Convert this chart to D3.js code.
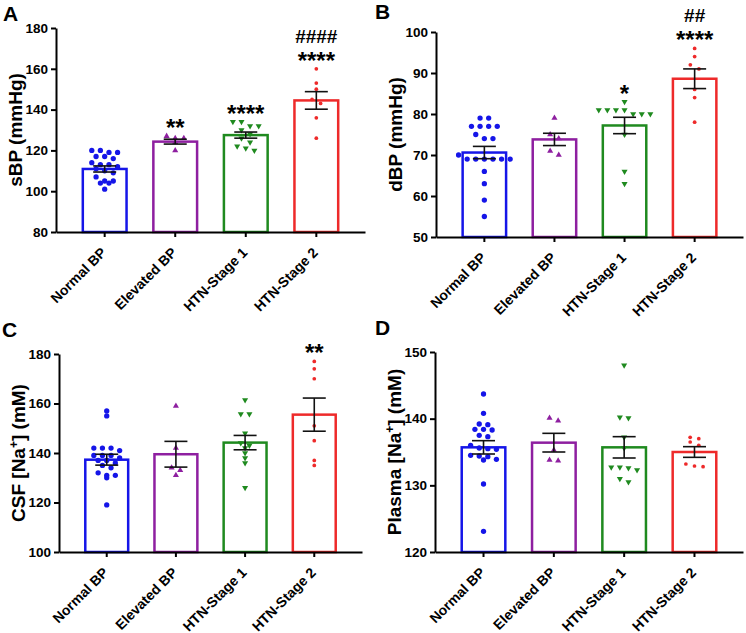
<!DOCTYPE html>
<html>
<head>
<meta charset="utf-8">
<script src="https://cdn.jsdelivr.net/npm/d3@7"></script>
<style>
  body { margin: 0; background: #fff; }
  text { font-family: Arial, "Liberation Sans", sans-serif; font-weight: bold; }
</style>
</head>
<body>
<svg width="746" height="633"></svg>
<script>
const groups = ["Normal BP", "Elevated BP", "HTN-Stage 1", "HTN-Stage 2"];
const groupColors = ["#1515e8", "#8e1fa0", "#1f8a1f", "#ee2a2a"];

// A - systolic BP
const sbpPoints = [
  [120, 120, 119, 119, 117, 117, 116, 114, 113, 113, 112, 111, 110, 109, 107, 105, 105, 104, 104, 101],
  [127, 126, 126, 124, 120],
  [134, 134, 132, 132, 130, 128, 126, 124, 122, 121, 120],
  [160, 153, 150, 145, 143, 136, 126]
];
const sbpMean = [110.9, 124.3, 127.5, 144.5];
const sbpSem = [1.5, 1.2, 1.5, 4.3];
const sbpStars = ["", "**", "****", "****"];
const sbpHash = ["", "", "", "####"];
const sbpTicks = [80, 100, 120, 140, 160, 180];

// B - diastolic BP
const dbpPoints = [
  [79, 79, 77, 77, 77, 77, 75, 74, 74, 70, 69, 69, 69, 69, 69, 69, 66, 63, 59, 55],
  [79, 75, 74, 71, 70],
  [83, 81, 81, 81, 81, 80, 80, 80, 75, 66, 63],
  [96, 94, 92, 91, 86, 84, 78]
];
const dbpMean = [70.6, 73.8, 77.2, 88.6];
const dbpSem = [1.5, 1.5, 2.0, 2.4];
const dbpStars = ["", "", "*", "****"];
const dbpHash = ["", "", "", "##"];
const dbpTicks = [50, 60, 70, 80, 90, 100];

// C - CSF sodium
const csfPoints = [
  [157, 155, 142, 142, 142, 141, 139, 139, 139, 138, 137, 137, 136, 135, 134, 132, 131, 131, 130, 119],
  [159, 142, 134, 133, 131],
  [161.4, 155.8, 155.8, 148, 144, 143, 142, 140, 138, 136, 126],
  [177, 174, 170, 151, 145, 137, 135]
];
const csfMean = [137.3, 139.5, 144.2, 155.5];
const csfSem = [2.2, 5.2, 2.9, 6.7];
const csfStars = ["", "", "", "**"];
const csfHash = ["", "", "", ""];
const csfTicks = [100, 120, 140, 160, 180];

// D - plasma sodium
const plasmaPoints = [
  [143.7, 140.8, 139.2, 139.1, 138.4, 138.4, 138.3, 137.5, 137.3, 136.0, 135.6, 135.5, 135.4, 134.5, 134.4, 134.3, 133.9, 133.8, 130.2, 123.1],
  [140.1, 139.7, 135.3, 133.8, 133.7],
  [148.0, 140.2, 140.1, 137.2, 135.6, 132.7, 132.7, 132.6, 132.3, 131.0, 130.5],
  [137.2, 137.0, 136.5, 136.0, 133.2, 132.9, 132.8]
];
const plasmaMean = [135.7, 136.4, 135.7, 135.0];
const plasmaSem = [1.0, 1.4, 1.6, 0.8];
const plasmaStars = ["", "", "", ""];
const plasmaHash = ["", "", "", ""];
const plasmaTicks = [120, 130, 140, 150];

const panels = [
  {letter: "A", title: ["sBP (mmHg)"], points: sbpPoints, mean: sbpMean, sem: sbpSem, stars: sbpStars, hash: sbpHash, ticks: sbpTicks,
   left: 56, right: 365, top: 28, bottom: 232, lx: 3, ly: 21},
  {letter: "B", title: ["dBP (mmHg)"], points: dbpPoints, mean: dbpMean, sem: dbpSem, stars: dbpStars, hash: dbpHash, ticks: dbpTicks,
   left: 436, right: 743, top: 32, bottom: 237, lx: 375, ly: 19},
  {letter: "C", title: ["CSF [Na", "+", "] (mM)"], points: csfPoints, mean: csfMean, sem: csfSem, stars: csfStars, hash: csfHash, ticks: csfTicks,
   left: 59, right: 362, top: 354, bottom: 552, lx: 2, ly: 337},
  {letter: "D", title: ["Plasma [Na", "+", "] (mM)"], points: plasmaPoints, mean: plasmaMean, sem: plasmaSem, stars: plasmaStars, hash: plasmaHash, ticks: plasmaTicks,
   left: 435, right: 743, top: 352, bottom: 552, lx: 375, ly: 335}
];

const svg = d3.select("svg");

// spread points with about the same value sideways, like a column scatter
function spread(values, y) {
  const sorted = values.slice().sort((a, b) => b - a);
  const out = [];
  let row = [];
  const flush = () => {
    row.forEach((v, k) => out.push({v: v, dx: (k - (row.length - 1) / 2) * 8.6}));
    row = [];
  };
  sorted.forEach(v => {
    if (row.length && Math.abs(y(v) - y(row[0])) > 4.5) flush();
    row.push(v);
  });
  flush();
  return out;
}

function drawPanel(p) {
  const g = svg.append("g");

  const x = d3.scaleBand()
    .domain(groups)
    .range([p.left, p.right])
    .paddingInner(0.38)
    .paddingOuter(0.38);

  const y = d3.scaleLinear()
    .domain([p.ticks[0], p.ticks[p.ticks.length - 1]])
    .range([p.bottom, p.top]);

  // bars
  g.selectAll("rect.bar")
    .data(groups)
    .enter()
    .append("rect")
    .attr("class", "bar")
    .attr("x", d => x(d))
    .attr("width", x.bandwidth())
    .attr("y", (d, i) => y(p.mean[i]))
    .attr("height", (d, i) => p.bottom - y(p.mean[i]))
    .attr("fill", "none")
    .attr("stroke", (d, i) => groupColors[i])
    .attr("stroke-width", 2.5);

  // points
  groups.forEach((grp, i) => {
    const cx = x(grp) + x.bandwidth() / 2;
    const pts = spread(p.points[i], y);
    const sel = g.append("g").selectAll("path")
      .data(pts)
      .enter()
      .append("path")
      .attr("fill", groupColors[i]);
    if (i === 0) {
      sel.attr("d", d3.symbol(d3.symbolCircle, 22));
    } else if (i === 3) {
      sel.attr("d", d3.symbol(d3.symbolCircle, 11));
    } else {
      sel.attr("d", d3.symbol(d3.symbolTriangle, 16));
    }
    sel.attr("transform", d => "translate(" + (cx + d.dx) + "," + y(d.v) + ")" + (i === 2 ? " rotate(180)" : ""));
  });

  // error bars
  groups.forEach((grp, i) => {
    const cx = x(grp) + x.bandwidth() / 2;
    const hi = y(p.mean[i] + p.sem[i]), lo = y(p.mean[i] - p.sem[i]);
    const eb = g.append("g").attr("stroke", "#111").attr("stroke-width", 1.6);
    eb.append("line").attr("x1", cx).attr("x2", cx).attr("y1", hi).attr("y2", lo);
    eb.append("line").attr("x1", cx - 11.5).attr("x2", cx + 11.5).attr("y1", hi).attr("y2", hi);
    eb.append("line").attr("x1", cx - 11.5).attr("x2", cx + 11.5).attr("y1", lo).attr("y2", lo);

    // significance marks above the highest point
    const top = y(d3.max(p.points[i]));
    if (p.stars[i]) {
      g.append("text")
        .attr("x", cx)
        .attr("y", top)
        .attr("text-anchor", "middle")
        .style("font-size", "24px")
        .text(p.stars[i]);
    }
    if (p.hash[i]) {
      g.append("text")
        .attr("x", cx)
        .attr("y", top - 14 - 18.5 + 6.5)
        .attr("text-anchor", "middle")
        .style("font-size", "19px")
        .text(p.hash[i]);
    }
  });

  // y axis
  const yAxis = g.append("g")
    .attr("transform", "translate(" + p.left + ",0)")
    .call(d3.axisLeft(y).tickValues(p.ticks).tickSize(5).tickSizeOuter(0).tickPadding(3));
  yAxis.select(".domain").attr("stroke-width", 2);
  yAxis.selectAll(".tick line").attr("stroke-width", 2);
  yAxis.selectAll(".tick text").style("font-size", "13.5px").attr("fill", "#000");

  // x axis
  const xAxis = g.append("g")
    .attr("transform", "translate(0," + p.bottom + ")")
    .call(d3.axisBottom(x).tickSize(5).tickSizeOuter(0));
  xAxis.select(".domain").attr("stroke-width", 2);
  xAxis.selectAll(".tick line").attr("stroke-width", 2);
  xAxis.selectAll(".tick text")
    .style("font-size", "14px")
    .attr("fill", "#000")
    .attr("text-anchor", "end")
    .attr("x", 0)
    .attr("y", 0)
    .attr("dy", "0.35em")
    .attr("transform", "translate(-1,18) rotate(-45)");

  // y title
  const t = g.append("text")
    .attr("transform", "translate(" + (p.left - 34) + "," + ((p.top + p.bottom) / 2) + ") rotate(-90)")
    .attr("text-anchor", "middle")
    .style("font-size", "19px");
  t.append("tspan").text(p.title[0]);
  if (p.title.length > 1) {
    t.append("tspan").attr("baseline-shift", "super").style("font-size", "12px").text(p.title[1]);
    t.append("tspan").text(p.title[2]);
  }

  // panel letter
  g.append("text")
    .attr("x", p.lx)
    .attr("y", p.ly)
    .style("font-size", "21px")
    .text(p.letter);
}

panels.forEach(drawPanel);
</script>
</body>
</html>
